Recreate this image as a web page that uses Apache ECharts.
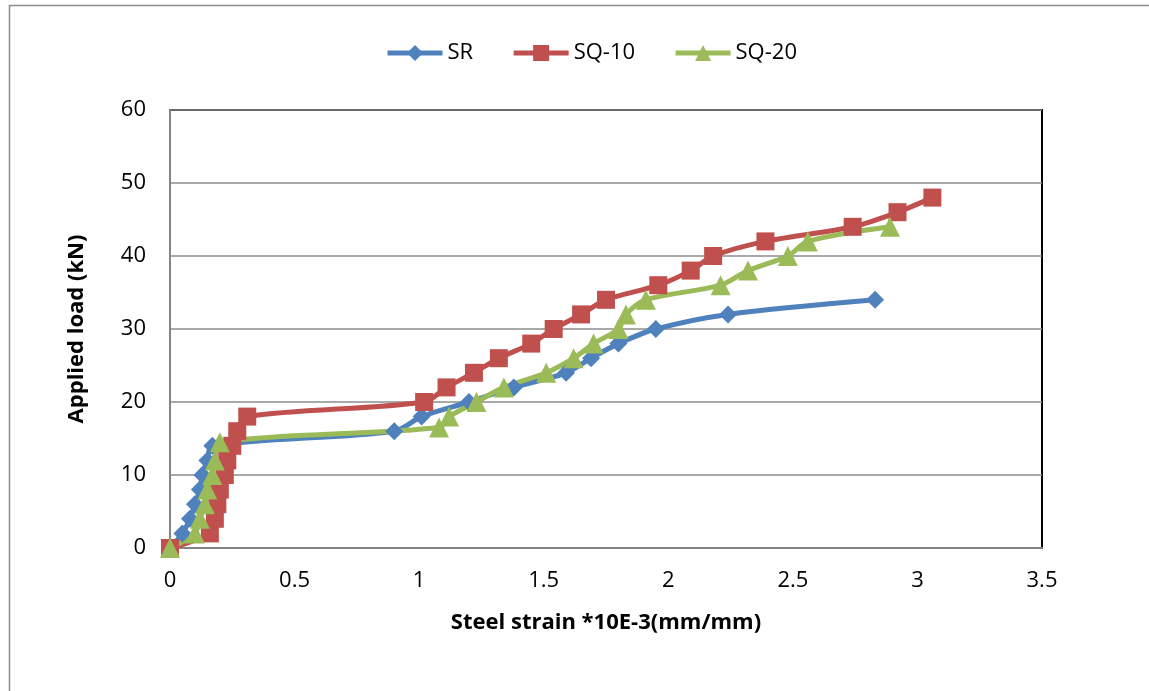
<!DOCTYPE html>
<html>
<head>
<meta charset="utf-8">
<script src="https://cdn.jsdelivr.net/npm/echarts@6/dist/echarts.min.js"></script>
<style>html,body{margin:0;padding:0;background:#fff}#c{width:1149px;height:691px}</style>
</head>
<body>
<div id="c"></div>
<script>
const xTicks = [0, 0.5, 1, 1.5, 2, 2.5, 3, 3.5];
const yTicks = [0, 10, 20, 30, 40, 50, 60];

const srStrain = [0, 0.05, 0.08, 0.10, 0.12, 0.13, 0.15, 0.17, 0.90, 1.01, 1.20, 1.38, 1.59, 1.69, 1.80, 1.95, 2.24, 2.83];
const srLoad   = [0, 2, 4, 6, 8, 10, 12, 14, 16, 18, 20, 22, 24, 26, 28, 30, 32, 34];

const sq10Strain = [0, 0.16, 0.18, 0.19, 0.20, 0.22, 0.23, 0.25, 0.27, 0.31, 1.02, 1.11, 1.22, 1.32, 1.45, 1.54, 1.65, 1.75, 1.96, 2.09, 2.18, 2.39, 2.74, 2.92, 3.06];
const sq10Load   = [0, 2, 4, 6, 8, 10, 12, 14, 16, 18, 20, 22, 24, 26, 28, 30, 32, 34, 36, 38, 40, 42, 44, 46, 48];

const sq20Strain = [0, 0.10, 0.12, 0.14, 0.15, 0.17, 0.18, 0.20, 1.08, 1.12, 1.23, 1.34, 1.51, 1.62, 1.70, 1.80, 1.83, 1.91, 2.21, 2.32, 2.48, 2.56, 2.89];
const sq20Load   = [0, 2, 4, 6, 8, 10, 12, 14.5, 16.5, 18, 20, 22, 24, 26, 28, 30, 32, 34, 36, 38, 40, 42, 44];

const pairs = (xs, ys) => xs.map((x, i) => [x, ys[i]]);

const chart = echarts.init(document.getElementById('c'));
const font = 'Open Sans, Noto Sans, sans-serif';
function mk(name, color, symbol, size, xs, ys) {
  return {
    name, type: 'line', data: pairs(xs, ys), smooth: 0.3,
    symbol, symbolSize: size,
    lineStyle: { color, width: 5 },
    itemStyle: { color },
    emphasis: { disabled: true }
  };
}
chart.setOption({
  animation: false,
  graphic: [{
    type: 'rect', left: 7, top: 3, shape: { width: 1300, height: 900 },
    style: { fill: 'none', stroke: '#8c8c8c', lineWidth: 1.5 }, silent: true, z: -10
  }],
  legend: {
    top: 37, left: 380, itemWidth: 55, itemHeight: 20, itemGap: 38,
    lineStyle: { width: 5 },
    textStyle: { fontFamily: font, fontSize: 22, color: '#000' },
    data: ['SR', 'SQ-10', 'SQ-20']
  },
  grid: {
    left: 170, top: 110, right: 107, bottom: 143,
    show: true, borderColor: '#000', borderWidth: 2, backgroundColor: 'transparent'
  },
  xAxis: {
    type: 'value', min: xTicks[0], max: xTicks[xTicks.length - 1], interval: 0.5,
    name: 'Steel strain *10E-3(mm/mm)', nameLocation: 'middle', nameGap: 64,
    nameTextStyle: { fontFamily: font, fontSize: 22, fontWeight: 'bold', color: '#000' },
    axisLine: { show: true, lineStyle: { color: '#868686', width: 2 } },
    axisTick: { show: false },
    splitLine: { show: false },
    axisLabel: { fontFamily: font, fontSize: 22, color: '#000', margin: 22,
      formatter: v => String(v) }
  },
  yAxis: {
    type: 'value', min: yTicks[0], max: yTicks[yTicks.length - 1], interval: 10,
    name: 'Applied load (kN)', nameLocation: 'middle', nameGap: 82, nameRotate: 90,
    nameTextStyle: { fontFamily: font, fontSize: 22, fontWeight: 'bold', color: '#000' },
    axisLine: { show: true, lineStyle: { color: '#868686', width: 2 } },
    axisTick: { show: false },
    splitLine: { show: true, lineStyle: { color: '#8c8c8c', width: 1.5 } },
    axisLabel: { fontFamily: font, fontSize: 22, color: '#000', margin: 24 }
  },
  series: [
    mk('SR', '#4F81BD', 'diamond', 18, srStrain, srLoad),
    mk('SQ-10', '#C0504D', 'rect', 18, sq10Strain, sq10Load),
    mk('SQ-20', '#9BBB59', 'triangle', 20, sq20Strain, sq20Load)
  ]
});
</script>
</body>
</html>
